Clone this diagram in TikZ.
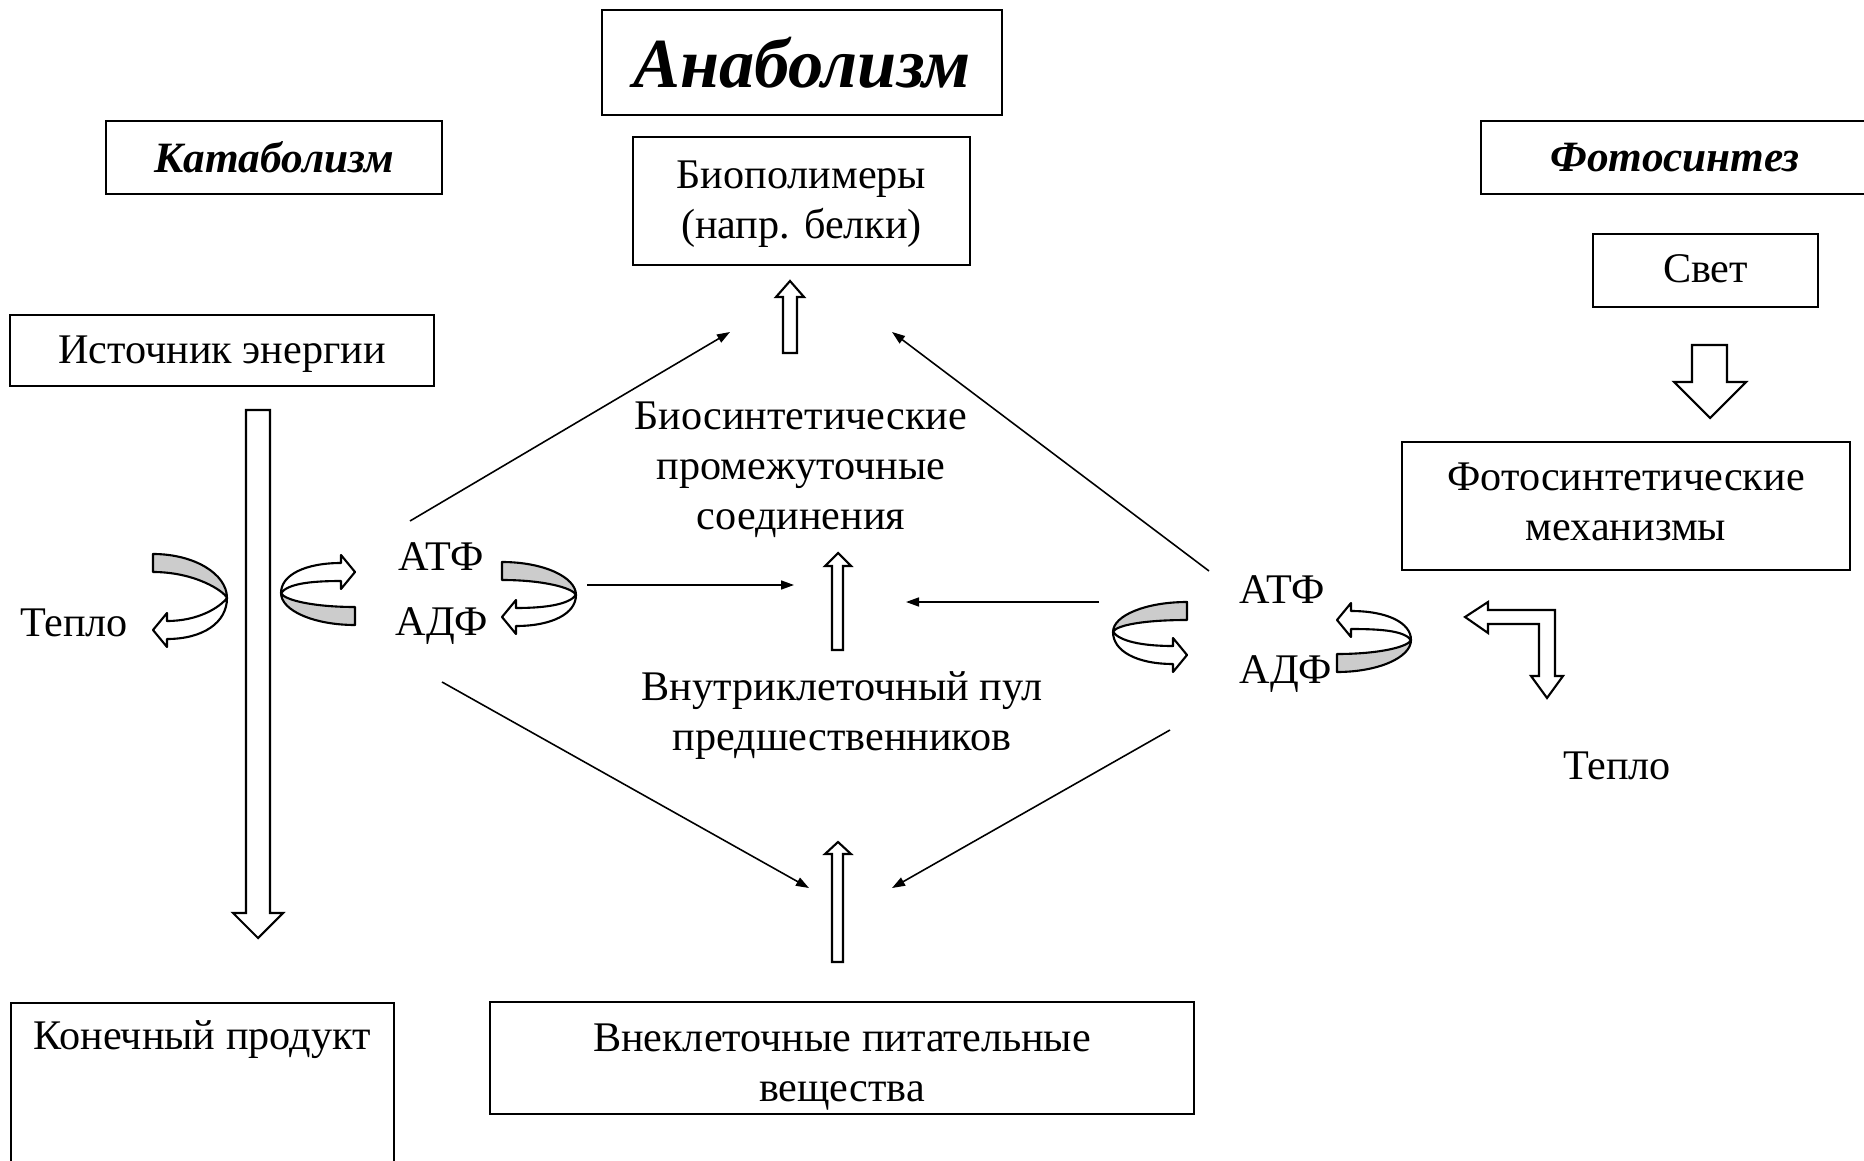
\documentclass[tikz,border=0pt]{standalone}
\usepackage{fontspec}
\setmainfont{Liberation Serif}
\usetikzlibrary{arrows.meta}

\definecolor{ribgray}{RGB}{204,204,204}

% curved ribbon arrow: #1 = depth of the twist, #2 = depth of the tip
\newcommand{\ribbon}[2]{%
  \draw[ribbon line, fill=ribgray] (0,0) .. controls (41,0) and (74,{0.45*#1}) .. (74,#1)
     .. controls (71,{#1-7}) and (42,18) .. (0,18) -- cycle;
  \draw[ribbon line, fill=white] (74,#1) .. controls (67,{#1+9}) and (46,{#2-9}) .. (14,{#2-9})
     -- (14,{#2-17}) -- (0,#2) -- (14,{#2+17}) -- (14,{#2+9})
     .. controls (50,{#2+9}) and (74,{#1+0.6*(#2+9-#1)}) .. (74,#1) -- cycle;
}

\begin{document}
\begin{tikzpicture}[x=0.01cm, y=-0.01cm,
    font=\fontsize{12}{14.2}\selectfont,
    box/.style={draw, line width=0.6pt, align=center, inner sep=2pt},
    lbl/.style={align=center, inner sep=1pt},
    flow/.style={-{Triangle[length=0.13cm,width=0.09cm]}, line width=0.45pt},
    hollow/.style={draw, line width=0.6pt, fill=white, line join=miter},
    ribbon line/.style={line width=0.6pt, line join=round}]

    \useasboundingbox (0,0) rectangle (1864,1161);

    % boxes
    \node[box, minimum width=4cm, minimum height=1.05cm,
          font=\bfseries\itshape\fontsize{20}{24}\selectfont] (anab) at (802,62.5) {Анаболизм};
    \node[box, minimum width=3.36cm, minimum height=0.73cm,
          font=\bfseries\itshape\fontsize{12.3}{15}\selectfont] (katab) at (274,157.5) {Катаболизм};
    \node[box, minimum width=3.88cm, minimum height=0.73cm,
          font=\bfseries\itshape\fontsize{12.3}{15}\selectfont] (foto) at (1675,157.5) {Фотосинтез};
    \node[box, minimum width=3.37cm, minimum height=1.28cm] (biopol) at (801.5,201) {};
    \node[box, minimum width=2.25cm, minimum height=0.73cm] (svet) at (1705.5,270.5) {};
    \node[box, minimum width=4.24cm, minimum height=0.71cm] (istoch) at (222,350.5) {};
    \node[box, minimum width=4.48cm, minimum height=1.28cm] (mech) at (1626,506) {};
    \node[box, minimum width=3.83cm, minimum height=2.2cm, anchor=north] (konech) at (202.5,1002) {};
    \node[box, minimum width=7.04cm, minimum height=1.12cm] (vnekl) at (842,1058) {};

    % texts in the boxes
    \node[lbl] (biopoltxt) at (801.5,204) {Биополимеры\\(напр. белки)};
    \node[lbl] (svettxt) at (1705.5,269) {Свет};
    \node[lbl] (istochtxt) at (222,354) {Источник энергии};
    \node[lbl] (mechtxt) at (1626,502) {Фотосинтетические\\механизмы};
    \node[lbl] (konechtxt) at (202,1040) {Конечный продукт};
    \node[lbl] (vnekltxt) at (842,1067) {Внеклеточные питательные\\вещества};

    % labels
    \node[lbl] (biosint) at (801,470) {Биосинтетические\\промежуточные\\соединения};
    \node[lbl] (pul) at (842,716) {Внутриклеточный пул\\предшественников};
    \node[lbl] (atpL) at (441,557) {АТФ};
    \node[lbl] (adpL) at (442,626) {АДФ};
    \node[lbl] (atpR) at (1282,590) {АТФ};
    \node[lbl] (adpR) at (1286,674) {АДФ};
    \node[lbl] (teploL) at (74,623) {Тепло};
    \node[lbl] (teploR) at (1617,766) {Тепло};

    % ends of the thin arrows
    \coordinate (luS) at (410,521);  \coordinate (luE) at (730,332);
    \coordinate (ruS) at (1209,571); \coordinate (ruE) at (892,332);
    \coordinate (lhS) at (587,585);  \coordinate (lhE) at (794,585);
    \coordinate (rhS) at (1099,602); \coordinate (rhE) at (906,602);
    \coordinate (ldS) at (442,682);  \coordinate (ldE) at (809,888);
    \coordinate (rdS) at (1170,730); \coordinate (rdE) at (892,888);

    \draw[flow] (luS) -- (luE);
    \draw[flow] (ruS) -- (ruE);
    \draw[flow] (lhS) -- (lhE);
    \draw[flow] (rhS) -- (rhE);
    \draw[flow] (ldS) -- (ldE);
    \draw[flow] (rdS) -- (rdE);

    % block arrows
    \draw[hollow] (246,410) -- (270,410) -- (270,913) -- (283,913) -- (258,938) -- (233,913) -- (246,913) -- cycle;
    \draw[hollow] (783,353) -- (797,353) -- (797,297) -- (804,297) -- (790,281) -- (776,297) -- (783,297) -- cycle;
    \draw[hollow] (832,650) -- (843,650) -- (843,566) -- (851,566) -- (838,553) -- (825,566) -- (832,566) -- cycle;
    \draw[hollow] (832,962) -- (843,962) -- (843,854) -- (851,854) -- (838,842) -- (825,854) -- (832,854) -- cycle;
    \draw[hollow] (1692,345) -- (1727,345) -- (1727,382) -- (1746,382) -- (1710,418) -- (1674,382) -- (1692,382) -- cycle;
    \draw[hollow] (1465,617) -- (1488,602) -- (1488,610) -- (1555,610) -- (1555,676) -- (1563,676)
        -- (1547,698) -- (1531,676) -- (1539,676) -- (1539,624) -- (1488,624) -- (1488,633) -- cycle;

    % curved ribbon arrows
    \begin{scope}[shift={(153,554)}]
        \ribbon{44}{76}
    \end{scope}
    \begin{scope}[shift={(502,562)}]
        \ribbon{33}{55}
    \end{scope}
    \begin{scope}[shift={(355,625)}, xscale=-1, yscale=-1]
        \ribbon{32}{53}
    \end{scope}
    \begin{scope}[shift={(1187,602)}, xscale=-1]
        \ribbon{30}{53}
    \end{scope}
    \begin{scope}[shift={(1337,672)}, yscale=-1]
        \ribbon{32}{52}
    \end{scope}

\end{tikzpicture}
\end{document}
